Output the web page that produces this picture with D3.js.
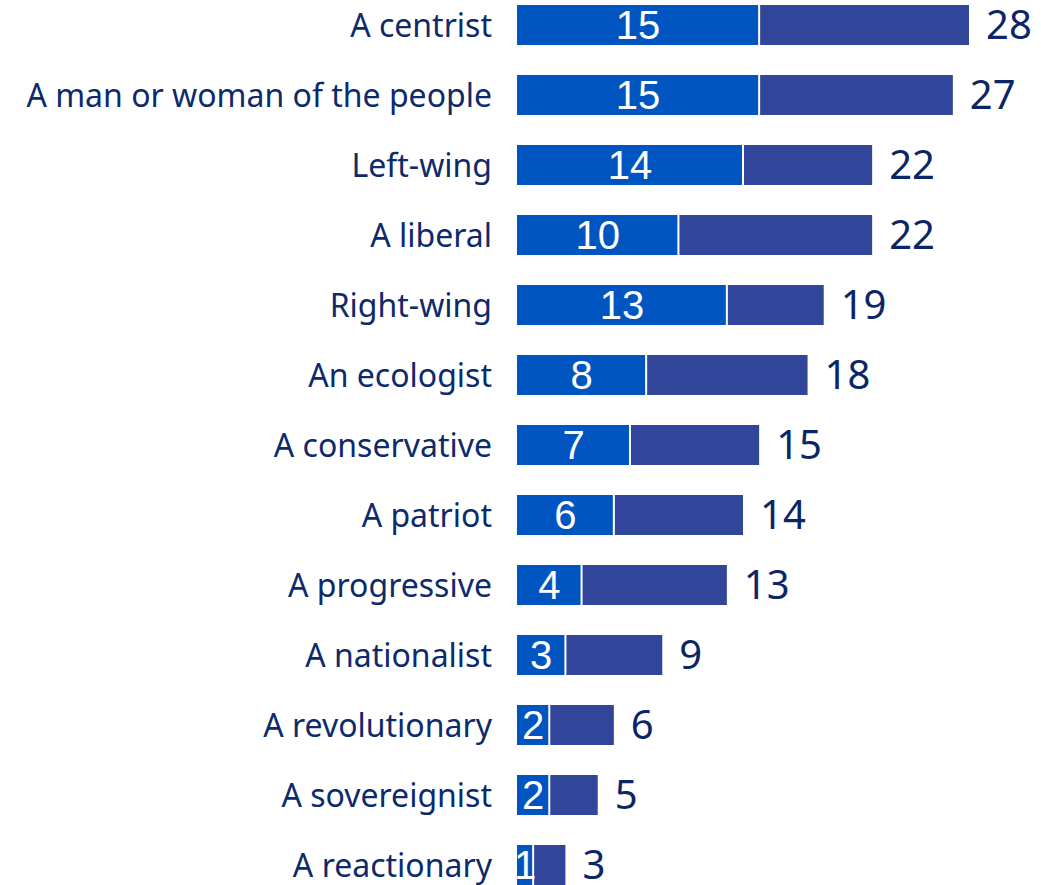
<!DOCTYPE html>
<html>
<head>
<meta charset="utf-8">
<script src="https://cdn.jsdelivr.net/npm/d3@7"></script>
<style>
  body { margin: 0; background: #fff; }
</style>
</head>
<body>
<script>
var categories = ["A centrist", "A man or woman of the people", "Left-wing", "A liberal",
    "Right-wing", "An ecologist", "A conservative", "A patriot", "A progressive",
    "A nationalist", "A revolutionary", "A sovereignist", "A reactionary"];
var firstValues = [15, 15, 14, 10, 13, 8, 7, 6, 4, 3, 2, 2, 1];
var totalValues = [28, 27, 22, 22, 19, 18, 15, 14, 13, 9, 6, 5, 3];

var width = 1041, height = 885;
var x0 = 517;

var svg = d3.select("body").append("svg")
    .attr("width", width)
    .attr("height", height);

var xScale = d3.scaleLinear().domain([0, 28]).range([x0, 969]);
var yScale = d3.scaleBand().domain(categories).range([5, 885])
    .paddingInner(30 / 70).paddingOuter(0);

var rows = svg.selectAll("g.row")
    .data(categories)
    .enter().append("g")
    .attr("class", "row")
    .attr("transform", function(d) { return "translate(0," + yScale(d) + ")"; });

var bh = yScale.bandwidth();

// second (rest) segment
rows.append("rect")
    .attr("x", function(d, i) { return xScale(firstValues[i]); })
    .attr("width", function(d, i) { return xScale(totalValues[i]) - xScale(firstValues[i]); })
    .attr("height", bh)
    .attr("fill", "#31469b");

// first segment
rows.append("rect")
    .attr("x", xScale(0))
    .attr("width", function(d, i) { return xScale(firstValues[i]) - xScale(0); })
    .attr("height", bh)
    .attr("fill", "#0055c0");

// white separator
rows.append("line")
    .attr("x1", function(d, i) { return xScale(firstValues[i]); })
    .attr("x2", function(d, i) { return xScale(firstValues[i]); })
    .attr("y1", 0)
    .attr("y2", bh)
    .attr("stroke", "#fff")
    .attr("stroke-width", 2);

// value inside first segment
rows.append("text")
    .attr("x", function(d, i) { return (xScale(0) + xScale(firstValues[i])) / 2; })
    .attr("y", bh / 2)
    .attr("dy", "0.36em")
    .attr("text-anchor", "middle")
    .attr("font-family", "Liberation Sans, Arial, sans-serif")
    .attr("font-size", "40px")
    .attr("fill", "#fff")
    .text(function(d, i) { return firstValues[i]; });

// total at the end
rows.append("text")
    .attr("x", function(d, i) { return xScale(totalValues[i]) + 17; })
    .attr("y", bh / 2)
    .attr("dy", "0.36em")
    .attr("font-family", "Noto Sans, sans-serif")
    .attr("font-size", "40px")
    .attr("fill", "#0b2566")
    .text(function(d, i) { return totalValues[i]; });

// category labels
rows.append("text")
    .attr("x", 492)
    .attr("y", bh / 2)
    .attr("dy", "0.36em")
    .attr("text-anchor", "end")
    .attr("font-family", "Noto Sans, sans-serif")
    .attr("font-size", "32px")
    .attr("fill", "#0d2a6b")
    .text(function(d) { return d; });
</script>
</body>
</html>
